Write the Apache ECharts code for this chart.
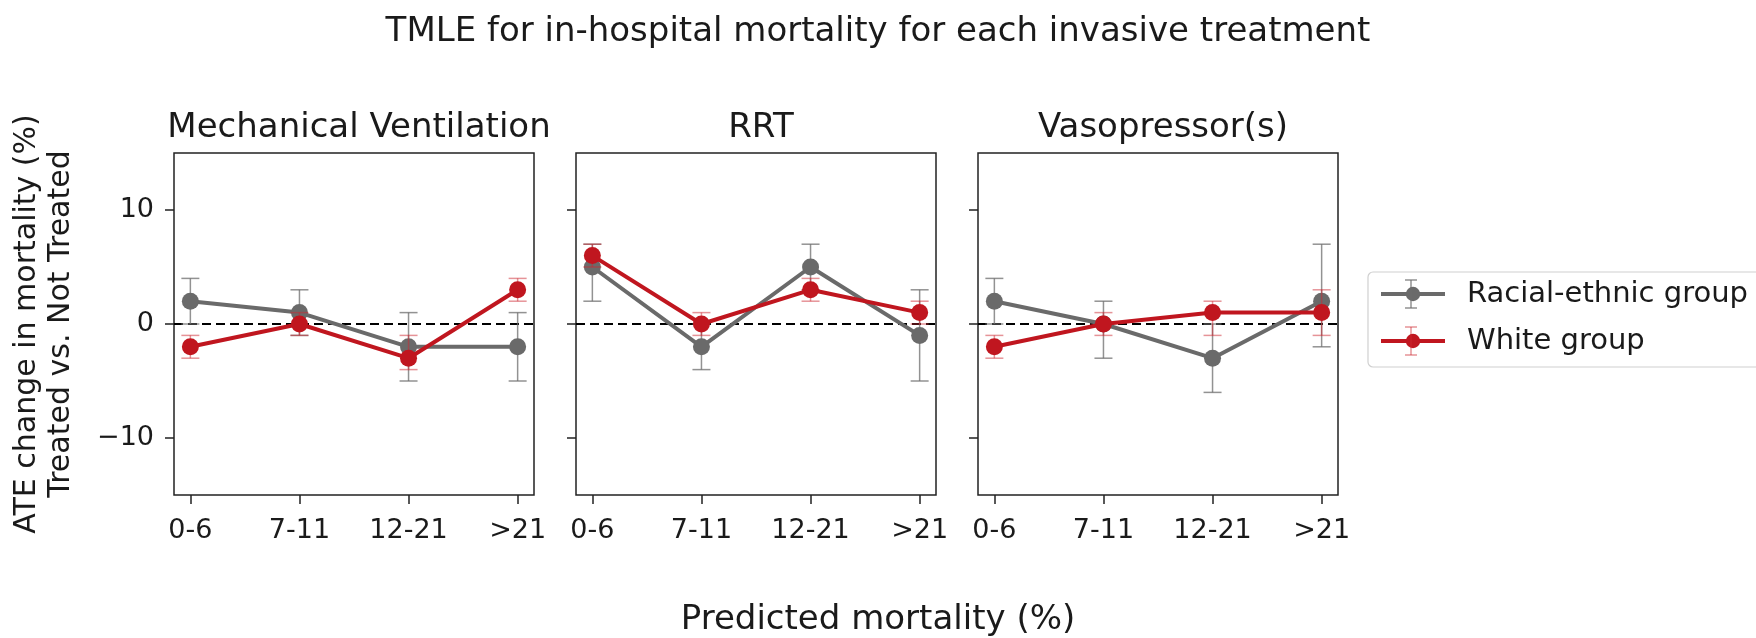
<!DOCTYPE html>
<html>
<head>
<meta charset="utf-8">
<script src="https://cdn.jsdelivr.net/npm/echarts@6/dist/echarts.min.js"></script>
<style>
  html, body { margin: 0; padding: 0; background: #fff; }
  #main { width: 1756px; height: 638px; }
</style>
</head>
<body>
<div id="main"></div>
<script>
// x categories (predicted mortality bins)
const categories = ['0-6', '7-11', '12-21', '>21'];
const panelNames = ['Mechanical Ventilation', 'RRT', 'Vasopressor(s)'];
const yTicks = [-10, 0, 10];

// Mechanical Ventilation
const mvRacial = [2, 1, -2, -2];
const mvRacialLow = [0, -1, -5, -5];
const mvRacialHigh = [4, 3, 1, 1];
const mvWhite = [-2, 0, -3, 3];
const mvWhiteLow = [-3, -1, -4, 2];
const mvWhiteHigh = [-1, 1, -1, 4];

// RRT
const rrtRacial = [5, -2, 5, -1];
const rrtRacialLow = [2, -4, 3, -5];
const rrtRacialHigh = [7, 0, 7, 3];
const rrtWhite = [6, 0, 3, 1];
const rrtWhiteLow = [5, -1, 2, 0];
const rrtWhiteHigh = [7, 1, 4, 2];

// Vasopressor(s)
const vasoRacial = [2, 0, -3, 2];
const vasoRacialLow = [0, -3, -6, -2];
const vasoRacialHigh = [4, 2, 0, 7];
const vasoWhite = [-2, 0, 1, 1];
const vasoWhiteLow = [-3, -1, -1, -1];
const vasoWhiteHigh = [-1, 1, 2, 3];

const racial = [mvRacial, rrtRacial, vasoRacial];
const racialLow = [mvRacialLow, rrtRacialLow, vasoRacialLow];
const racialHigh = [mvRacialHigh, rrtRacialHigh, vasoRacialHigh];
const white = [mvWhite, rrtWhite, vasoWhite];
const whiteLow = [mvWhiteLow, rrtWhiteLow, vasoWhiteLow];
const whiteHigh = [mvWhiteHigh, rrtWhiteHigh, vasoWhiteHigh];

const GRAY = '#6a6a6a';
const RED = '#c0161f';
const GRAY_ERR = 'rgba(110,110,110,0.75)';
const RED_ERR = 'rgba(205,40,50,0.5)';
const FONT = 'DejaVu Sans';

const gridLeft = [174, 576, 978];
const gridW = 360;

function minusFmt(v) {
  return v < 0 ? '\u2212' + Math.abs(v) : String(v);
}

function errRenderer(color) {
  return function (params, api) {
    const x = api.value(0);
    const lo = api.coord([x, api.value(1)]);
    const hi = api.coord([x, api.value(2)]);
    const hw = 9;
    const style = { stroke: color, lineWidth: 1.5 };
    return {
      type: 'group',
      children: [
        { type: 'line', shape: { x1: lo[0], y1: lo[1], x2: hi[0], y2: hi[1] }, style: style },
        { type: 'line', shape: { x1: lo[0] - hw, y1: lo[1], x2: lo[0] + hw, y2: lo[1] }, style: style },
        { type: 'line', shape: { x1: hi[0] - hw, y1: hi[1], x2: hi[0] + hw, y2: hi[1] }, style: style }
      ]
    };
  };
}

// small errorbar glyph on the legend icons
function legendErr(cx, cy, color) {
  const style = { stroke: color, lineWidth: 1.5 };
  return [
    { type: 'line', z: 10, shape: { x1: cx, y1: cy - 14, x2: cx, y2: cy + 14 }, style: style },
    { type: 'line', z: 10, shape: { x1: cx - 6, y1: cy - 14, x2: cx + 6, y2: cy - 14 }, style: style },
    { type: 'line', z: 10, shape: { x1: cx - 6, y1: cy + 14, x2: cx + 6, y2: cy + 14 }, style: style }
  ];
}

const grids = [], xAxes = [], yAxes = [], lineSeries = [], errSeries = [];
const titles = [
  {
    text: 'TMLE for in-hospital mortality for each invasive treatment',
    left: 'center', top: 10,
    textStyle: { fontFamily: FONT, fontSize: 34, fontWeight: 'normal', color: '#1a1a1a' }
  },
  {
    text: 'Predicted mortality (%)',
    left: 'center', top: 598,
    textStyle: { fontFamily: FONT, fontSize: 34, fontWeight: 'normal', color: '#1a1a1a' }
  }
];

for (let i = 0; i < 3; i++) {
  grids.push({
    left: gridLeft[i], top: 153, width: gridW, height: 342,
    show: true, borderColor: '#222', borderWidth: 1.5, backgroundColor: 'transparent'
  });
  titles.push({
    text: panelNames[i],
    left: gridLeft[i] + gridW / 2, top: 106, textAlign: 'center',
    textStyle: { fontFamily: FONT, fontSize: 34, fontWeight: 'normal', color: '#1a1a1a' }
  });
  xAxes.push({
    type: 'value', gridIndex: i, min: -0.15, max: 3.15,
    axisLine: { show: false, onZero: false },
    splitLine: { show: false },
    axisTick: { show: true, length: 9, customValues: [0, 1, 2, 3], lineStyle: { color: '#222', width: 1.5 } },
    axisLabel: {
      customValues: [0, 1, 2, 3], margin: 22,
      formatter: v => categories[Math.round(v)],
      fontFamily: FONT, fontSize: 27, color: '#1a1a1a'
    }
  });
  yAxes.push({
    type: 'value', gridIndex: i, min: -15, max: 15,
    axisLine: { show: false, onZero: false },
    splitLine: { show: false },
    axisTick: { show: true, length: 9, customValues: yTicks, lineStyle: { color: '#222', width: 1.5 } },
    axisLabel: {
      show: i === 0, customValues: yTicks, margin: 20,
      formatter: minusFmt,
      fontFamily: FONT, fontSize: 27, color: '#1a1a1a'
    },
    name: i === 0 ? 'ATE change in mortality (%)\nTreated vs. Not Treated' : '',
    nameLocation: 'middle', nameRotate: 90, nameGap: 96,
    nameTextStyle: { fontFamily: FONT, fontSize: 30, lineHeight: 34, color: '#1a1a1a', align: 'center' }
  });

  lineSeries.push({
    type: 'line', name: 'Racial-ethnic group', xAxisIndex: i, yAxisIndex: i, z: 4,
    data: racial[i].map((v, j) => [j, v]),
    symbol: 'circle', symbolSize: 17,
    lineStyle: { color: GRAY, width: 4 },
    itemStyle: { color: GRAY },
    markLine: {
      silent: true, symbol: ['none', 'none'], z: 2,
      label: { show: false },
      lineStyle: { color: '#000', width: 2, type: [9, 5] },
      data: [{ yAxis: 0 }]
    }
  });
  lineSeries.push({
    type: 'line', name: 'White group', xAxisIndex: i, yAxisIndex: i, z: 6,
    data: white[i].map((v, j) => [j, v]),
    symbol: 'circle', symbolSize: 17,
    lineStyle: { color: RED, width: 4 },
    itemStyle: { color: RED }
  });
  errSeries.push({
    type: 'custom', name: 'Racial-ethnic group', xAxisIndex: i, yAxisIndex: i, z: 3,
    renderItem: errRenderer(GRAY_ERR),
    itemStyle: { color: GRAY },
    encode: { x: 0, y: [1, 2] },
    data: racial[i].map((v, j) => [j, racialLow[i][j], racialHigh[i][j]])
  });
  errSeries.push({
    type: 'custom', name: 'White group', xAxisIndex: i, yAxisIndex: i, z: 5,
    renderItem: errRenderer(RED_ERR),
    itemStyle: { color: RED },
    encode: { x: 0, y: [1, 2] },
    data: white[i].map((v, j) => [j, whiteLow[i][j], whiteHigh[i][j]])
  });
}

const chart = echarts.init(document.getElementById('main'));
chart.setOption({
  animation: false,
  backgroundColor: '#fff',
  title: titles,
  grid: grids,
  xAxis: xAxes,
  yAxis: yAxes,
  legend: {
    orient: 'vertical', left: 1368, top: 272,
    padding: [6, 40, 10, 11],
    borderColor: '#d0d0d0', borderWidth: 1.2, borderRadius: 5,
    itemWidth: 64, itemHeight: 18, itemGap: 15,
    lineStyle: { width: 4 },
    data: ['Racial-ethnic group', 'White group'],
    textStyle: { fontFamily: FONT, fontSize: 29, lineHeight: 32, color: '#1a1a1a', padding: [0, 0, 0, 17] }
  },
  graphic: legendErr(1411, 294, GRAY_ERR).concat(legendErr(1411, 341, RED_ERR)),
  series: lineSeries.concat(errSeries)
});
</script>
</body>
</html>
